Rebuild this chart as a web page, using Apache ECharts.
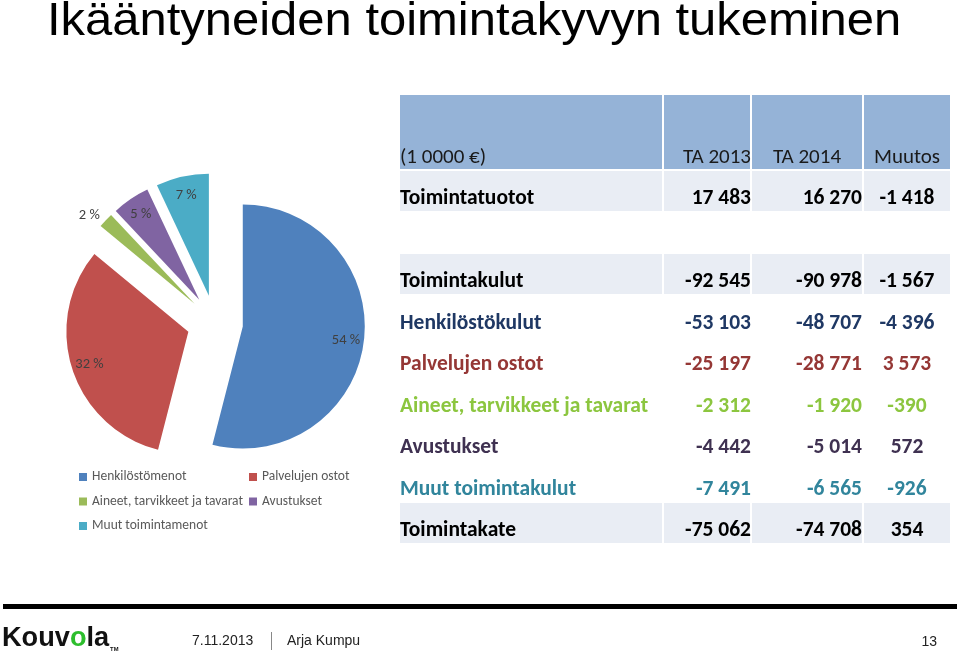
<!DOCTYPE html>
<html>
<head>
<meta charset="utf-8">
<script src="https://cdn.jsdelivr.net/npm/echarts@6/dist/echarts.min.js"></script>
<style>
html,body{margin:0;padding:0;background:#fff;}
#main{width:960px;height:653px;}
</style>
</head>
<body>
<div id="main"></div>
<script>
// ---- data ----
var titleText = 'Ikääntyneiden toimintakyvyn tukeminen';
var pieNames = ['Henkilöstömenot', 'Palvelujen ostot', 'Aineet, tarvikkeet ja tavarat', 'Avustukset', 'Muut toimintamenot'];
var pieValues = [54, 32, 2, 5, 7];
var tableHeader = ['(1 0000 €)', 'TA 2013', 'TA 2014', 'Muutos'];
var rowLabels = ['Toimintatuotot', '', 'Toimintakulut', 'Henkilöstökulut', 'Palvelujen ostot', 'Aineet, tarvikkeet ja tavarat', 'Avustukset', 'Muut toimintakulut', 'Toimintakate'];
var ta2013 = ['17 483', '', '-92 545', '-53 103', '-25 197', '-2 312', '-4 442', '-7 491', '-75 062'];
var ta2014 = ['16 270', '', '-90 978', '-48 707', '-28 771', '-1 920', '-5 014', '-6 565', '-74 708'];
var muutos = ['-1 418', '', '-1 567', '-4 396', '3 573', '-390', '572', '-926', '354'];
var footerDate = '7.11.2013';
var footerAuthor = 'Arja Kumpu';
var footerPage = '13';

// ---- styles ----
var pieColors = ['#4F81BD', '#C0504D', '#9BBB59', '#8064A2', '#4BACC6'];
var rowColors = ['#000000', '#000000', '#000000', '#1F3864', '#953735', '#8CC63F', '#3F3151', '#31859C', '#000000'];
var rowShaded = [true, false, true, false, false, false, false, false, true];
var CAL = "Carlito, Lato, 'Open Sans', sans-serif";

var chart = echarts.init(document.getElementById('main'), null, {renderer: 'canvas'});

var g = [];
// title
g.push({type: 'text', x: 47, y: 22, scaleX: 1.064, style: {text: titleText, x: 0, y: 0, align: 'left', verticalAlign: 'middle',
  font: "46px 'Liberation Sans Narrow', 'Liberation Sans', Arial, sans-serif", fill: '#000'}});

// table
var colX = [[400, 662], [664, 750], [752, 862], [864, 950]];
colX.forEach(function (c) {
  g.push({type: 'rect', shape: {x: c[0], y: 95, width: c[1] - c[0], height: 74}, style: {fill: '#95B3D7'}});
});
var hy = 158;
var hf = "21px " + CAL;
g.push({type: 'text', style: {text: tableHeader[0], x: 400, y: hy, align: 'left', verticalAlign: 'middle', font: hf, fill: '#1a1a1a'}});
g.push({type: 'text', style: {text: tableHeader[1], x: 751, y: hy, align: 'right', verticalAlign: 'middle', font: hf, fill: '#1a1a1a'}});
g.push({type: 'text', style: {text: tableHeader[2], x: 807, y: hy, align: 'center', verticalAlign: 'middle', font: hf, fill: '#1a1a1a'}});
g.push({type: 'text', style: {text: tableHeader[3], x: 907, y: hy, align: 'center', verticalAlign: 'middle', font: hf, fill: '#1a1a1a'}});

rowLabels.forEach(function (lab, i) {
  var top = 171 + i * 41.5;
  var cy = 199 + i * 41.5;
  if (rowShaded[i]) {
    colX.forEach(function (c) {
      g.push({type: 'rect', shape: {x: c[0], y: top, width: c[1] - c[0], height: 40}, style: {fill: '#E9EDF4'}});
    });
  }
  var f = 'bold 21.5px ' + CAL;
  var col = rowColors[i];
  g.push({type: 'text', style: {text: lab, x: 400, y: cy, align: 'left', verticalAlign: 'middle', font: f, fill: col}});
  g.push({type: 'text', style: {text: ta2013[i], x: 751, y: cy, align: 'right', verticalAlign: 'middle', font: f, fill: col}});
  g.push({type: 'text', style: {text: ta2014[i], x: 862, y: cy, align: 'right', verticalAlign: 'middle', font: f, fill: col}});
  g.push({type: 'text', style: {text: muutos[i], x: 907, y: cy, align: 'center', verticalAlign: 'middle', font: f, fill: col}});
});

// footer
g.push({type: 'rect', shape: {x: 3, y: 604, width: 954, height: 5}, style: {fill: '#000'}});
g.push({type: 'text', x: 2, y: 638, scaleX: 0.97, style: {
  text: '{k|Kouv}{o|o}{k|la}{t|TM}', x: 0, y: 0, align: 'left', verticalAlign: 'middle',
  rich: {
    k: {font: "bold 28px 'Liberation Sans', Arial, sans-serif", fill: '#111'},
    o: {font: "bold 28px 'Liberation Sans', Arial, sans-serif", fill: '#2DBE2D'},
    t: {font: "bold 6px 'Liberation Sans', Arial, sans-serif", fill: '#111', verticalAlign: 'bottom', padding: [14, 0, 0, 1]}
  }}});
var ff = "14px 'Liberation Sans Narrow', 'Liberation Sans', Arial, sans-serif";
g.push({type: 'text', style: {text: footerDate, x: 192, y: 641, align: 'left', verticalAlign: 'middle', font: ff, fill: '#222'}});
g.push({type: 'rect', shape: {x: 271, y: 632, width: 1, height: 18}, style: {fill: '#888'}});
g.push({type: 'text', style: {text: footerAuthor, x: 287, y: 641, align: 'left', verticalAlign: 'middle', font: ff, fill: '#222'}});
g.push({type: 'text', style: {text: footerPage, x: 937, y: 642, align: 'right', verticalAlign: 'middle', font: ff, fill: '#222'}});

var pieData = pieNames.map(function (n, i) {
  return {name: n, value: pieValues[i], selected: true, itemStyle: {color: pieColors[i]}};
});
var labelData = pieNames.map(function (n, i) {
  var d = {name: n, value: pieValues[i], selected: true};
  if (pieValues[i] < 3) {
    d.label = {position: 'outside', distanceToLabelLine: 0};
    d.labelLine = {show: false, length: 8, length2: 0};
  }
  return d;
});

var legendText = {color: '#595959', fontSize: 13.5, fontFamily: CAL};

chart.setOption({
  animation: false,
  color: pieColors,
  legend: [
    {data: [pieNames[0], pieNames[2], pieNames[4]], orient: 'vertical', left: 79, top: 470, icon: 'rect',
      itemWidth: 8, itemHeight: 8, itemGap: 10.5, textStyle: legendText, selectedMode: false, padding: 0},
    {data: [pieNames[1], pieNames[3]], orient: 'vertical', left: 249, top: 470, icon: 'rect',
      itemWidth: 8, itemHeight: 8, itemGap: 10.5, textStyle: legendText, selectedMode: false, padding: 0}
  ],
  series: [
    {
      type: 'pie', center: [215, 323], radius: [0, 122], startAngle: 90, clockwise: true,
      selectedMode: 'multiple', selectedOffset: 28, avoidLabelOverlap: false,
      label: {show: false}, labelLine: {show: false},
      itemStyle: {borderWidth: 0},
      emphasis: {disabled: true},
      data: pieData
    },
    {
      type: 'pie', center: [215, 324], radius: [80, 122], startAngle: 90, clockwise: true,
      selectedMode: 'multiple', selectedOffset: 28, avoidLabelOverlap: false, silent: true,
      legendHoverLink: false,
      itemStyle: {color: 'rgba(0,0,0,0)', borderWidth: 0},
      label: {show: true, position: 'inside', formatter: '{d} %', color: '#404040', fontSize: 14.5, fontFamily: CAL},
      labelLine: {show: false},
      emphasis: {disabled: true},
      data: labelData
    }
  ],
  graphic: g
});
</script>
</body>
</html>
